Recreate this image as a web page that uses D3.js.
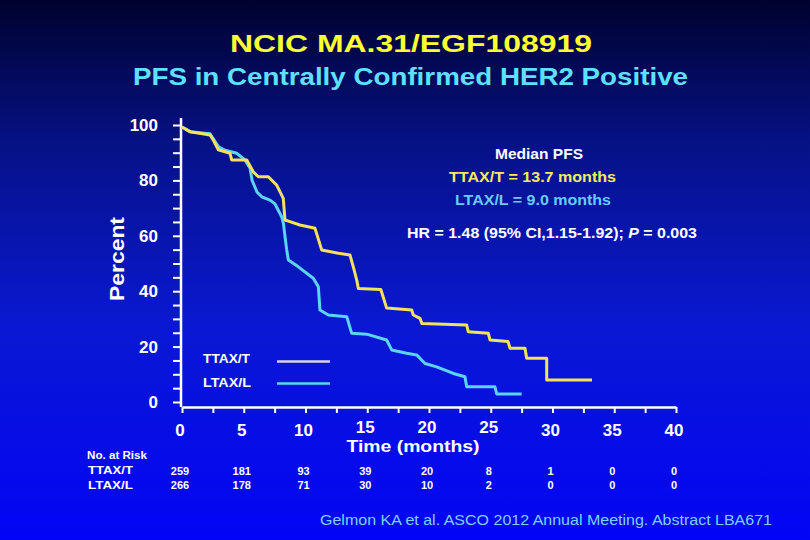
<!DOCTYPE html>
<html>
<head>
<meta charset="utf-8">
<script src="https://cdn.jsdelivr.net/npm/d3@7"></script>
<style>
html,body{margin:0;padding:0;background:#000;}
svg{display:block;font-family:"Liberation Sans",Arial,sans-serif;}
</style>
</head>
<body>
<svg id="chart" width="810" height="540"></svg>
<script>
// ---- data ----
const ttaxTime = [0,0.65,2.27,2.53,2.94,3.89,4.02,5.24,5.77,6.18,6.99,7.67,8.20,8.34,8.74,9.55,10.77,11.31,12.66,13.6,13.87,14.15,14.28,16.1,16.57,18.6,18.73,19.27,19.43,23.05,23.18,24.8,24.94,26.4,26.56,27.77,27.91,29.53,29.53,33.2];
const ttaxSurv = [99.3,97.6,96.4,94.6,91.0,89.8,87.4,87.4,83.1,81.3,81.3,78.3,73.5,65.7,65.1,63.9,62.7,54.9,53.7,53.1,48.8,44.0,41.0,40.6,33.9,33.2,31.4,30.2,28.3,27.8,25.4,24.8,22.4,21.8,19.4,19.4,15.8,15.8,7.9,7.9];
const ltaxTime = [0,0.65,2.27,2.94,3.48,4.43,5.1,5.51,5.67,6.07,6.48,7.13,7.53,8.07,8.22,8.34,8.48,8.61,9.42,10.63,11.04,11.17,11.85,13.34,13.74,14.96,16.57,16.98,18.19,19.0,19.68,20.62,21.97,22.91,23.05,25.34,25.48,27.5];
const ltaxSurv = [99.3,97.6,96.8,92.2,90.9,89.8,87.4,84.4,80.1,75.8,74.0,72.9,71.5,66.9,64.3,59.7,54.9,51.3,48.8,44.7,41.6,33.2,31.4,30.8,24.8,24.5,22.4,18.8,17.6,17.0,13.9,12.7,10.3,9.1,5.5,5.5,2.9,2.9];
const xTickLabels = [0,5,10,15,20,25,30,35,40];
const yTickLabels = [0,20,40,60,80,100];
const atRiskT = [259,181,93,39,20,8,1,0,0];
const atRiskL = [266,178,71,30,10,2,0,0,0];

// ---- setup ----
const svg = d3.select("#chart");
const defs = svg.append("defs");
const grad = defs.append("linearGradient").attr("id","bg").attr("x1",0).attr("y1",0).attr("x2",0).attr("y2",1);
[[0,"#00022e"],[0.28,"#06128a"],[0.6,"#0a18d2"],[1,"#0204f6"]].forEach(s=>grad.append("stop").attr("offset",s[0]).attr("stop-color",s[1]));
svg.append("rect").attr("width",810).attr("height",540).attr("fill","url(#bg)");

const x = d3.scaleLinear().domain([0,40]).range([182,676]);
const y = d3.scaleLinear().domain([0,100]).range([402,125]);

// titles
svg.append("text").attr("x",411).attr("y",52).attr("text-anchor","middle")
  .attr("font-size",24).attr("font-weight","bold").attr("fill","#ffff33")
  .attr("textLength",362).attr("lengthAdjust","spacingAndGlyphs").text("NCIC MA.31/EGF108919");
svg.append("text").attr("x",410.5).attr("y",85).attr("text-anchor","middle")
  .attr("font-size",23).attr("font-weight","bold").attr("fill","#5fe0ff")
  .attr("textLength",555).attr("lengthAdjust","spacingAndGlyphs").text("PFS in Centrally Confirmed HER2 Positive");

// y axis
const yAxis = d3.axisLeft(y).tickValues(d3.range(0,101,5)).tickSize(8).tickSizeOuter(0).tickFormat("");
const gy = svg.append("g").attr("transform","translate(181,0)").call(yAxis);
gy.select(".domain").remove();
gy.selectAll(".tick line").attr("stroke","#fff").attr("stroke-width",2);
gy.append("line").attr("x1",0).attr("x2",0).attr("y1",y(102.5)).attr("y2",407).attr("stroke","#fff").attr("stroke-width",2.5);
svg.append("g").selectAll("text").data(yTickLabels).join("text")
  .attr("x",158).attr("y",d=>y(d)+6).attr("text-anchor","end")
  .attr("font-size",17).attr("font-weight","bold").attr("fill","#fff").text(d=>d);
svg.append("text").attr("transform","translate(124,259) rotate(-90)").attr("text-anchor","middle")
  .attr("font-size",20).attr("font-weight","bold").attr("fill","#fff")
  .attr("textLength",84).attr("lengthAdjust","spacingAndGlyphs").text("Percent");

// x axis
const xAxis = d3.axisBottom(x).tickValues(d3.range(0,40.01,2.5)).tickSize(6).tickSizeOuter(0).tickFormat("");
const gx = svg.append("g").attr("transform","translate(0,407)").call(xAxis);
gx.select(".domain").attr("stroke","#fff").attr("stroke-width",2.5);
gx.selectAll(".tick line").attr("stroke","#fff").attr("stroke-width",2);
svg.append("g").selectAll("text").data(xTickLabels).join("text")
  .attr("x",d=>x(d)-2).attr("y",d=>(d>=15 && d<=25) ? 433 : 436).attr("text-anchor","middle")
  .attr("font-size",17).attr("font-weight","bold").attr("fill","#fff").text(d=>d);
svg.append("text").attr("x",413).attr("y",452).attr("text-anchor","middle")
  .attr("font-size",16).attr("font-weight","bold").attr("fill","#fff")
  .attr("textLength",133).attr("lengthAdjust","spacingAndGlyphs").text("Time (months)");

// curves
const line = d3.line().x(d=>x(d[0])).y(d=>y(d[1]));
const tData = ttaxTime.map((t,i)=>[t,ttaxSurv[i]]);
const lData = ltaxTime.map((t,i)=>[t,ltaxSurv[i]]);
svg.append("path").datum(lData).attr("d",line).attr("fill","none").attr("stroke","#5cd4f4").attr("stroke-width",3).attr("stroke-linejoin","round");
svg.append("path").datum(tData).attr("d",line).attr("fill","none").attr("stroke","#f4e25a").attr("stroke-width",3).attr("stroke-linejoin","round");

// legend
svg.append("text").attr("x",203).attr("y",363).attr("font-size",13).attr("font-weight","bold").attr("fill","#fff")
  .attr("textLength",47).attr("lengthAdjust","spacingAndGlyphs").text("TTAX/T");
svg.append("text").attr("x",203).attr("y",387).attr("font-size",13).attr("font-weight","bold").attr("fill","#fff")
  .attr("textLength",48).attr("lengthAdjust","spacingAndGlyphs").text("LTAX/L");
svg.append("line").attr("x1",277).attr("x2",330).attr("y1",361.5).attr("y2",361.5).attr("stroke","#d6d4e4").attr("stroke-width",2.5);
svg.append("line").attr("x1",277).attr("x2",330).attr("y1",383.5).attr("y2",383.5).attr("stroke","#5cd4f4").attr("stroke-width",2.5);

// annotations
svg.append("text").attr("x",539).attr("y",159).attr("text-anchor","middle").attr("font-size",14).attr("font-weight","bold").attr("fill","#fff")
  .attr("textLength",88).attr("lengthAdjust","spacingAndGlyphs").text("Median PFS");
svg.append("text").attr("x",532.5).attr("y",182).attr("text-anchor","middle").attr("font-size",14).attr("font-weight","bold").attr("fill","#f6ec5c")
  .attr("textLength",167).attr("lengthAdjust","spacingAndGlyphs").text("TTAX/T = 13.7 months");
svg.append("text").attr("x",533).attr("y",205).attr("text-anchor","middle").attr("font-size",14).attr("font-weight","bold").attr("fill","#66ccff")
  .attr("textLength",156).attr("lengthAdjust","spacingAndGlyphs").text("LTAX/L = 9.0 months");
const hr = svg.append("text").attr("x",407).attr("y",238).attr("font-size",14).attr("font-weight","bold").attr("fill","#fff")
  .attr("textLength",290).attr("lengthAdjust","spacingAndGlyphs");
hr.append("tspan").text("HR = 1.48 (95% CI,1.15-1.92); ");
hr.append("tspan").attr("font-style","italic").text("P");
hr.append("tspan").text(" = 0.003");

// at-risk table
svg.append("text").attr("x",87).attr("y",459).attr("font-size",11).attr("font-weight","bold").attr("fill","#fff")
  .attr("textLength",60).attr("lengthAdjust","spacingAndGlyphs").text("No. at Risk");
svg.append("text").attr("x",88).attr("y",474).attr("font-size",11).attr("font-weight","bold").attr("fill","#fff")
  .attr("textLength",45).attr("lengthAdjust","spacingAndGlyphs").text("TTAX/T");
svg.append("text").attr("x",88).attr("y",489).attr("font-size",11).attr("font-weight","bold").attr("fill","#fff")
  .attr("textLength",45).attr("lengthAdjust","spacingAndGlyphs").text("LTAX/L");
svg.append("g").selectAll("text").data(atRiskT).join("text")
  .attr("x",(d,i)=>x(xTickLabels[i])-2).attr("y",475).attr("text-anchor","middle")
  .attr("font-size",11).attr("font-weight","bold").attr("fill","#fff").text(d=>d);
svg.append("g").selectAll("text").data(atRiskL).join("text")
  .attr("x",(d,i)=>x(xTickLabels[i])-2).attr("y",489).attr("text-anchor","middle")
  .attr("font-size",11).attr("font-weight","bold").attr("fill","#fff").text(d=>d);

// footer
svg.append("text").attr("x",320).attr("y",525).attr("font-size",14).attr("fill","#7fd0ff")
  .attr("textLength",452).attr("lengthAdjust","spacingAndGlyphs").text("Gelmon KA et al. ASCO 2012 Annual Meeting. Abstract LBA671");
</script>
</body>
</html>
